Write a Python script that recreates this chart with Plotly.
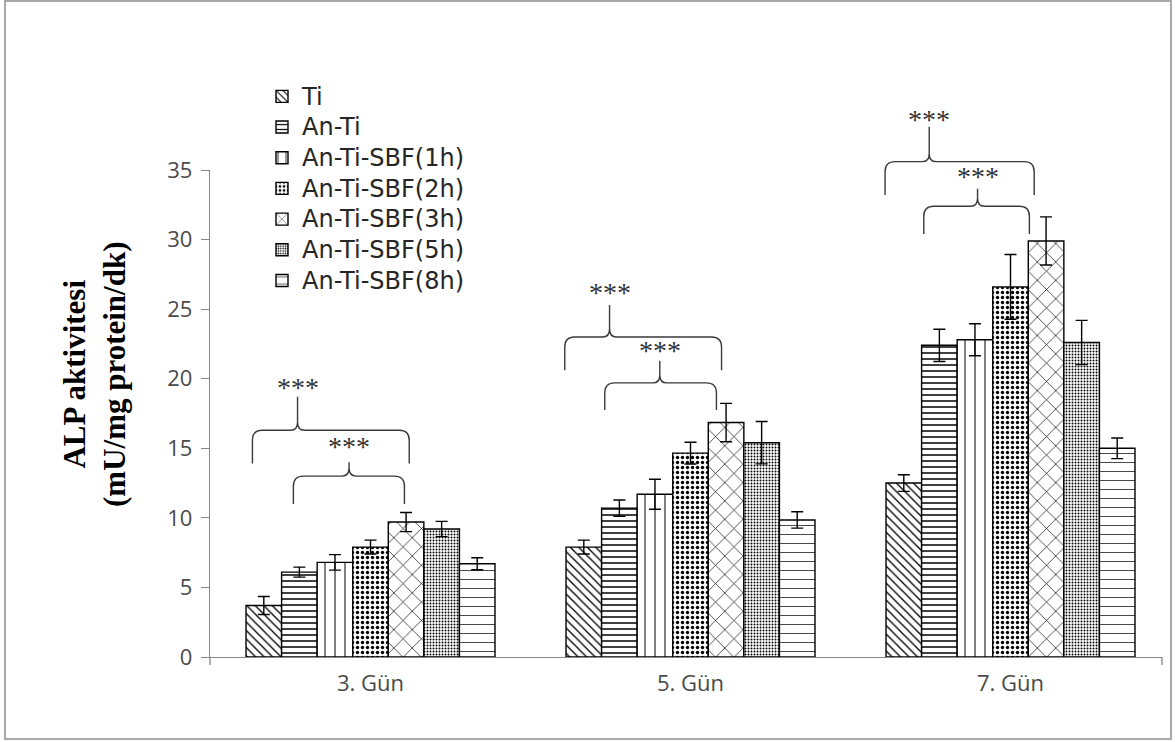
import plotly.graph_objects as go

# ---- data -----------------------------------------------------------------
days = ["3. Gün", "5. Gün", "7. Gün"]
groups = ["Ti", "An-Ti", "An-Ti-SBF(1h)", "An-Ti-SBF(2h)",
          "An-Ti-SBF(3h)", "An-Ti-SBF(5h)", "An-Ti-SBF(8h)"]

ti       = [3.7, 7.9, 12.5]
an_ti    = [6.1, 10.7, 22.4]
sbf_1h   = [6.8, 11.7, 22.8]
sbf_2h   = [7.9, 14.65, 26.6]
sbf_3h   = [9.7, 16.85, 29.9]
sbf_5h   = [9.2, 15.4, 22.6]
sbf_8h   = [6.7, 9.85, 15.0]

ti_err     = [0.65, 0.5, 0.6]
an_ti_err  = [0.36, 0.58, 1.16]
sbf_1h_err = [0.56, 1.08, 1.15]
sbf_2h_err = [0.5, 0.78, 2.33]
sbf_3h_err = [0.69, 1.38, 1.73]
sbf_5h_err = [0.55, 1.52, 1.59]
sbf_8h_err = [0.43, 0.59, 0.74]

y_ticks = [0, 5, 10, 15, 20, 25, 30, 35]
sig_label = "***"

# ---- styling --------------------------------------------------------------
W, H = 1175, 742
M_L, M_R, M_T, M_B = 210, 13, 170, 85
PW, PH = W - M_L - M_R, H - M_T - M_B
XMIN, XMAX = -0.5016, 2.4734
YMAX = 35

patterns = [
    dict(shape="\\", size=6, solidity=0.22),
    dict(shape="-", size=6, solidity=0.25),
    dict(shape="|", size=10, solidity=0.1),
    dict(shape=".", size=5, solidity=0.36),
    dict(shape="x", size=13, solidity=0.1),
    dict(shape=".", size=3, solidity=0.32),
    dict(shape="-", size=9, solidity=0.08),
]

series = [ti, an_ti, sbf_1h, sbf_2h, sbf_3h, sbf_5h, sbf_8h]
errors = [ti_err, an_ti_err, sbf_1h_err, sbf_2h_err,
          sbf_3h_err, sbf_5h_err, sbf_8h_err]

fig = go.Figure()
for name, vals, err, pat in zip(groups, series, errors, patterns):
    fig.add_trace(go.Bar(
        name=f'<span style="font-size:24px">{name}</span>',
        x=days, y=vals,
        marker=dict(color="white",
                    line=dict(color="black", width=1.4),
                    pattern=dict(fgcolor="black", bgcolor="white",
                                 fillmode="replace", **pat)),
        error_y=dict(type="data", array=err, visible=True,
                     color="black", thickness=1.4, width=6),
    ))


def px(x):
    return (x - XMIN) / (XMAX - XMIN)


def py(y):
    return y / YMAX


def brace_path(xl, xr, xt, yb, yh, ytip):
    """Horizontal curly brace opening downwards, in paper units."""
    rx, ry = 10 / PW, 10 / PH          # leg corners
    tx, ty = 7 / PW, 8 / PH            # centre cusp
    XL, XR, XT = px(xl), px(xr), px(xt)
    YB, YH, YT = py(yb), py(yh), py(ytip)
    return (f"M{XL},{YB} L{XL},{YH - ry} Q{XL},{YH} {XL + rx},{YH} "
            f"L{XT - tx},{YH} Q{XT},{YH} {XT},{YH + ty} L{XT},{YT} "
            f"M{XT},{YH + ty} Q{XT},{YH} {XT + tx},{YH} "
            f"L{XR - rx},{YH} Q{XR},{YH} {XR},{YH - ry} L{XR},{YB}")


# significance braces: (day index, left, right, cusp offsets, leg bottom,
# brace level, cusp tip, label height)
braces = [
    (0, -0.369, 0.121, -0.228, 13.9, 16.3, 18.7, 19.4),
    (0, -0.241, 0.106, -0.067, 11.0, 13.0, 14.0, 15.1),
    (1, -0.393, 0.097, -0.253, 20.6, 23.0, 25.3, 26.2),
    (1, -0.268, 0.081, -0.096, 17.75, 19.7, 21.3, 22.0),
    (2, -0.392, 0.074, -0.254, 33.2, 35.6, 38.1, 38.6),
    (2, -0.271, 0.059, -0.103, 30.4, 32.4, 33.65, 34.5),
]
for d, l, r, t, yb, yh, ytip, ylab in braces:
    fig.add_shape(type="path", xref="paper", yref="paper",
                  path=brace_path(d + l, d + r, d + t, yb, yh, ytip),
                  line=dict(color="#3a3a3a", width=1.4))
    fig.add_annotation(x=px(d + t), y=py(ylab), xref="paper", yref="paper",
                       text=sig_label, showarrow=False,
                       font=dict(family="Liberation Serif", size=28,
                                 color="#333333"),
                       xanchor="center", yanchor="middle")

# axis end ticks on the category axis
for xe in (0, 1):
    fig.add_shape(type="line", xref="paper", yref="paper",
                  x0=xe, x1=xe, y0=0, y1=-8 / PH,
                  line=dict(color="#868686", width=1.3))

# outer frame
fig.add_shape(type="rect", xref="paper", yref="paper",
              x0=(5 - M_L) / PW, x1=(1171 - M_L) / PW,
              y0=(H - M_B - 739) / PH, y1=(H - M_B - 1) / PH,
              line=dict(color="#a8a8a8", width=2), fillcolor="rgba(0,0,0,0)",
              layer="below")

# y-axis title
fig.add_annotation(
    text="<b>ALP aktivitesi</b><br><b>(mU/mg protein/dk)</b>",
    xref="paper", yref="paper",
    x=(94 - M_L) / PW, y=(H - M_B - 374) / PH,
    textangle=-90, showarrow=False, xanchor="center", yanchor="middle",
    font=dict(family="Liberation Serif", size=31, color="black"),
)

fig.update_layout(
    width=W, height=H,
    margin=dict(l=M_L, r=M_R, t=M_T, b=M_B),
    paper_bgcolor="white", plot_bgcolor="white",
    barmode="group", bargap=0.222, bargroupgap=0,
    showlegend=True,
    legend=dict(x=(262 - M_L) / PW, y=(H - M_B - 76) / PH,
                xanchor="left", yanchor="top",
                bgcolor="rgba(0,0,0,0)",
                font=dict(family="DejaVu Sans", size=21.3, color="#262626")),
    font=dict(family="Open Sans", color="#595959"),
)
fig.update_xaxes(type="category", range=[XMIN, XMAX],
                 showline=True, linecolor="#868686", linewidth=1.3,
                 ticks="", showgrid=False, zeroline=False,
                 tickfont=dict(family="Open Sans", size=22, color="#4a4a4a"),
                 ticklabelstandoff=6)
fig.update_yaxes(range=[0, YMAX], tickvals=y_ticks,
                 showline=True, linecolor="#868686", linewidth=1.3,
                 ticks="outside", ticklen=8, tickcolor="#868686",
                 tickwidth=1.3, showgrid=False, zeroline=False,
                 tickfont=dict(family="Open Sans", size=22, color="#4a4a4a"),
                 ticklabelstandoff=4)

fig.write_html("out.html")
